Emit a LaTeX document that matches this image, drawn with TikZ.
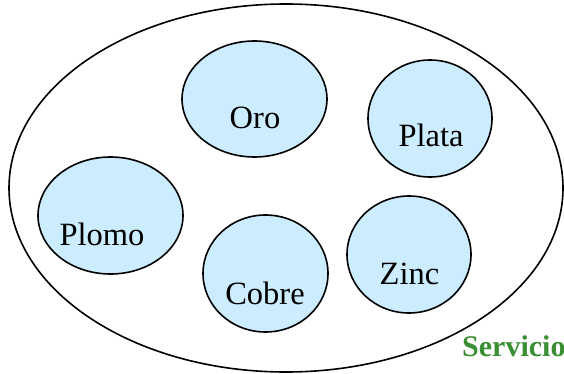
\documentclass[tikz,border=0pt]{standalone}
\usepackage{fontspec}
\setmainfont{Liberation Serif}
\usetikzlibrary{shapes.geometric}
\definecolor{lightblue}{RGB}{204,236,255}
\definecolor{srvgreen}{RGB}{58,142,52}
\begin{document}
\begin{tikzpicture}[x=1pt,y=-1pt,
  metal/.style={ellipse,draw=black,line width=1.6pt,fill=lightblue,inner sep=0pt},
  lbl/.style={anchor=base,inner sep=0pt,font=\fontsize{32.5}{35}\selectfont},
]
\useasboundingbox (0,0) rectangle (564,374);
\node[ellipse,draw=black,line width=1.6pt,minimum width=554,minimum height=368,inner sep=0pt] (outer) at (286,188) {};
\node[metal,minimum width=145,minimum height=116] (oro) at (254.5,99) {};
\node[metal,minimum width=124,minimum height=117] (plata) at (430,118.5) {};
\node[metal,minimum width=145,minimum height=117] (plomo) at (110.5,215.5) {};
\node[metal,minimum width=125,minimum height=117] (cobre) at (265.5,273.5) {};
\node[metal,minimum width=124,minimum height=117] (zinc) at (409,254.5) {};
\node[lbl] (toro) at (255,129) {Oro};
\node[lbl] (tplata) at (431,147) {Plata};
\node[lbl] (tplomo) at (102,245) {Plomo};
\node[lbl] (tcobre) at (265,304) {Cobre};
\node[lbl] (tzinc) at (409.5,284) {Zinc};
\node[anchor=base west,inner sep=0pt,text=srvgreen,font=\fontsize{30}{33}\selectfont\bfseries] (serv) at (462,356) {Servicio};
\end{tikzpicture}
\end{document}
